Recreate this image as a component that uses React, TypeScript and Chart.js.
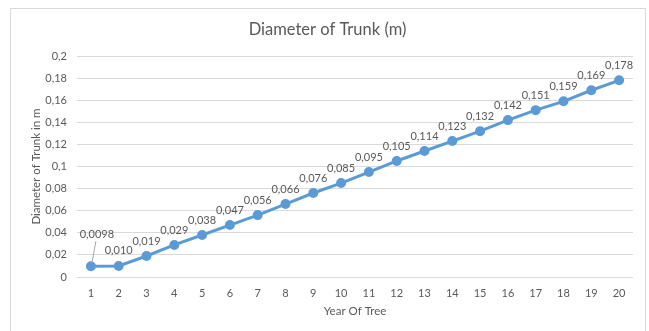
import React, { useEffect, useRef } from "react";
import { Chart, registerables } from "chart.js";

Chart.register(...registerables);

const years: string[] = ["1","2","3","4","5","6","7","8","9","10","11","12","13","14","15","16","17","18","19","20"];
const diameters: number[] = [0.0098, 0.010, 0.019, 0.029, 0.038, 0.047, 0.056, 0.066, 0.076, 0.085, 0.095, 0.105, 0.114, 0.123, 0.132, 0.142, 0.151, 0.159, 0.169, 0.178];
const chartTitle = "Diameter of Trunk (m)";
const yTitle = "Diameter of Trunk in m";
const xTitle = "Year Of Tree";

const FONT = "Lato, 'Open Sans', sans-serif";
const TEXT = "#595959";
const BLUE = "#5b9bd5";

const fmtLabel = (v: number) => (v < 0.01 ? v.toFixed(4) : v.toFixed(3)).replace(".", ",");

const titlePlugin = {
  id: "customTitle",
  afterDraw(chart: any) {
    const ctx = chart.ctx;
    ctx.save();
    ctx.font = `16.5px ${FONT}`;
    ctx.fillStyle = TEXT;
    ctx.textAlign = "center";
    ctx.textBaseline = "middle";
    ctx.fillText(chartTitle, 327.5, 30);
    ctx.restore();
  },
};

const labelPlugin = {
  id: "dataLabels",
  afterDatasetsDraw(chart: any) {
    const ctx = chart.ctx;
    const meta = chart.getDatasetMeta(0);
    ctx.save();
    ctx.font = `11px ${FONT}`;
    ctx.fillStyle = TEXT;
    ctx.textAlign = "center";
    ctx.textBaseline = "middle";
    meta.data.forEach((pt: any, i: number) => {
      const v = diameters[i];
      const txt = fmtLabel(v);
      if (i === 0) {
        const lx = pt.x + 6;
        const ly = pt.y - 32;
        ctx.strokeStyle = "#a6a6a6";
        ctx.lineWidth = 1;
        ctx.beginPath();
        ctx.moveTo(lx - 1, ly + 7);
        ctx.lineTo(pt.x + 1, pt.y - 3);
        ctx.stroke();
        ctx.fillText(txt, lx, ly);
      } else {
        ctx.fillText(txt, pt.x, pt.y - 15);
      }
    });
    ctx.restore();
  },
};

export default function App() {
  const ref = useRef<HTMLCanvasElement | null>(null);
  useEffect(() => {
    if (!ref.current) return;
    const chart = new Chart(ref.current, {
      type: "line",
      data: {
        labels: years,
        datasets: [
          {
            data: diameters,
            borderColor: BLUE,
            backgroundColor: BLUE,
            borderWidth: 3,
            pointRadius: 3.5,
            pointBackgroundColor: BLUE,
            pointBorderColor: BLUE,
            tension: 0,
          },
        ],
      },
      options: {
        animation: false,
        responsive: false,
        maintainAspectRatio: false,
        layout: { padding: { left: 0, right: 16, top: 56, bottom: 0 } },
        plugins: {
          legend: { display: false },
          tooltip: { enabled: false },
          title: { display: false },
        },
        scales: {
          x: {
            offset: true,
            grid: { display: false, drawTicks: false },
            border: { display: false },
            ticks: { color: TEXT, font: { family: FONT, size: 11 }, padding: 10, maxRotation: 0, autoSkip: false },
            title: {
              display: true,
              text: xTitle,
              color: TEXT,
              font: { family: FONT, size: 11.5 },
              padding: { top: 0, bottom: 13 },
            },
            afterFit: (s: any) => { s.height = 54; },
          },
          y: {
            min: 0,
            max: 0.2,
            grid: { color: "#d9d9d9", drawTicks: false, lineWidth: 1 },
            border: { display: false },
            ticks: {
              stepSize: 0.02,
              color: TEXT,
              font: { family: FONT, size: 11 },
              padding: 10,
              callback: (v: any) => String(parseFloat(Number(v).toFixed(2))).replace(".", ","),
            },
            title: {
              display: true,
              text: yTitle,
              color: TEXT,
              font: { family: FONT, size: 11.5 },
              padding: { top: 29, bottom: 0 },
            },
            afterFit: (s: any) => { s.width = 77; },
          },
        },
      },
      plugins: [labelPlugin, titlePlugin],
    });
    return () => chart.destroy();
  }, []);
  return (
    <div style={{ position: "fixed", left: 0, top: 0, width: 649, height: 331, background: "#fff" }}>
      <div style={{ position: "absolute", left: 10, top: 8, width: 636, height: 340, border: "1px solid #d9d9d9", boxSizing: "border-box" }} />
      <canvas ref={ref} width={649} height={331} style={{ position: "absolute", left: 0, top: 0, width: 649, height: 331 }} />
    </div>
  );
}
